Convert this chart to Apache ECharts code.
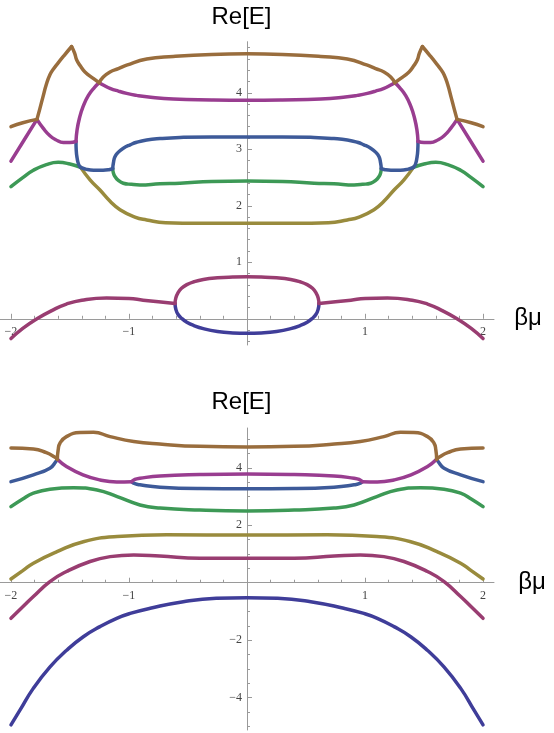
<!DOCTYPE html>
<html><head><meta charset="utf-8">
<script src="https://cdn.jsdelivr.net/npm/echarts@6/dist/echarts.min.js"></script>
<style>html,body{margin:0;padding:0;background:#fff}#c{width:554px;height:733px}</style>
</head><body><div id="c"></div>
<script>
// ---------- tick values ----------
const xMajor = [-2, -1, 1, 2];
const xMinor = [-1.8,-1.6,-1.4,-1.2,-0.8,-0.6,-0.4,-0.2,0.2,0.4,0.6,0.8,1.2,1.4,1.6,1.8];
const topYMajor = [1, 2, 3, 4];
const topYMinor = [-0.4,-0.2,0.2,0.4,0.6,0.8,1.2,1.4,1.6,1.8,2.2,2.4,2.6,2.8,3.2,3.4,3.6,3.8,4.2,4.4,4.6,4.8];
const botYMajor = [-4, -2, 2, 4];
const botYMinor = [-5,-4.5,-3.5,-3,-2.5,-1.5,-1,-0.5,0.5,1,1.5,2.5,3,3.5,4.5,5];

// ---------- top panel curves [βμ, Re E] ----------
const topMaroonLeft = [[-2.0,-0.35],[-1.9,-0.17],[-1.78,0.0],[-1.65,0.15],[-1.53,0.26],[-1.4,0.33],[-1.19,0.37],[-1.0,0.36],[-0.88,0.33],[-0.75,0.30],[-0.61,0.27]];
const topMaroonRight = [[0.61,0.27],[0.75,0.30],[0.88,0.33],[1.0,0.36],[1.19,0.37],[1.4,0.33],[1.53,0.26],[1.65,0.15],[1.78,0.0],[1.9,-0.17],[2.0,-0.35]];
const topMaroonArc = [[-0.61,0.27],[-0.603,0.37],[-0.585,0.46],[-0.555,0.54],[-0.51,0.605],[-0.45,0.655],[-0.37,0.695],[-0.25,0.725],[-0.12,0.74],[0,0.745],[0.12,0.74],[0.25,0.725],[0.37,0.695],[0.45,0.655],[0.51,0.605],[0.555,0.54],[0.585,0.46],[0.603,0.37],[0.61,0.27]];
const topDarkBlueArc = [[-0.61,0.27],[-0.603,0.17],[-0.585,0.08],[-0.555,0.01],[-0.51,-0.06],[-0.45,-0.12],[-0.37,-0.175],[-0.25,-0.225],[-0.12,-0.25],[0,-0.257],[0.12,-0.25],[0.25,-0.225],[0.37,-0.175],[0.45,-0.12],[0.51,-0.06],[0.555,0.01],[0.585,0.08],[0.603,0.17],[0.61,0.27]];
const topOlive = [[-1.41,2.68],[-1.33,2.46],[-1.246,2.28],[-1.16,2.08],[-1.076,1.93],[-0.95,1.80],[-0.85,1.75],[-0.69,1.70],[-0.4,1.69],[0,1.69],[0.4,1.69],[0.69,1.70],[0.85,1.75],[0.95,1.80],[1.076,1.93],[1.16,2.08],[1.246,2.28],[1.33,2.46],[1.41,2.68]];
const topGreenLeft = [[-2,2.34],[-1.9,2.50],[-1.81,2.63],[-1.70,2.73],[-1.60,2.77],[-1.50,2.74],[-1.41,2.68]];
const topGreenRight = [[1.41,2.68],[1.50,2.74],[1.60,2.77],[1.70,2.73],[1.81,2.63],[1.9,2.50],[2,2.34]];
const topGreenInner = [[-1.138,2.66],[-1.132,2.58],[-1.119,2.52],[-1.09,2.45],[-1.048,2.40],[-0.98,2.38],[-0.907,2.37],[-0.737,2.39],[-0.568,2.40],[-0.3,2.43],[0,2.44],[0.3,2.43],[0.568,2.40],[0.737,2.39],[0.907,2.37],[0.98,2.38],[1.048,2.40],[1.09,2.45],[1.119,2.52],[1.132,2.58],[1.138,2.66]];
const topBlueInner = [[-1.138,2.66],[-1.132,2.76],[-1.119,2.87],[-1.09,2.95],[-1.048,3.02],[-0.99,3.08],[-0.935,3.125],[-0.85,3.165],[-0.737,3.19],[-0.568,3.21],[-0.3,3.22],[0,3.22],[0.3,3.22],[0.568,3.21],[0.737,3.19],[0.85,3.165],[0.935,3.125],[0.99,3.08],[1.048,3.02],[1.09,2.95],[1.119,2.87],[1.132,2.76],[1.138,2.66]];
const topBlueBridgeLeft = [[-1.41,2.68],[-1.36,2.645],[-1.30,2.63],[-1.22,2.63],[-1.17,2.64],[-1.138,2.66]];
const topBlueBridgeRight = [[1.138,2.66],[1.17,2.64],[1.22,2.63],[1.30,2.63],[1.36,2.645],[1.41,2.68]];
const topBlueRiseLeft = [[-1.41,2.68],[-1.428,2.74],[-1.44,2.85],[-1.447,2.98],[-1.449,3.14]];
const topBlueRiseRight = [[1.41,2.68],[1.428,2.74],[1.44,2.85],[1.447,2.98],[1.449,3.14]];
const topPurpleArc = [[-1.252,4.18],[-1.21,4.13],[-1.161,4.08],[-1.09,4.03],[-1.02,3.99],[-0.935,3.955],[-0.85,3.93],[-0.625,3.89],[-0.3,3.875],[0,3.87],[0.3,3.875],[0.625,3.89],[0.85,3.93],[0.935,3.955],[1.02,3.99],[1.09,4.03],[1.161,4.08],[1.21,4.13],[1.252,4.18]];
const topPurpleDropLeft = [[-1.252,4.18],[-1.29,4.10],[-1.345,3.95],[-1.39,3.75],[-1.42,3.55],[-1.44,3.34],[-1.449,3.14]];
const topPurpleDropRight = [[1.252,4.18],[1.29,4.10],[1.345,3.95],[1.39,3.75],[1.42,3.55],[1.44,3.34],[1.449,3.14]];
const topPurpleDipLeft = [[-1.449,3.14],[-1.50,3.12],[-1.556,3.12],[-1.62,3.17],[-1.67,3.24],[-1.726,3.37],[-1.78,3.53]];
const topPurpleDipRight = [[1.449,3.14],[1.50,3.12],[1.556,3.12],[1.62,3.17],[1.67,3.24],[1.726,3.37],[1.78,3.53]];
const topPurpleEdgeLeft = [[-1.78,3.53],[-1.89,3.16],[-2,2.79]];
const topPurpleEdgeRight = [[1.78,3.53],[1.89,3.16],[2,2.79]];
const topBrownEdgeLeft = [[-2,3.40],[-1.9,3.47],[-1.78,3.53]];
const topBrownEdgeRight = [[1.78,3.53],[1.9,3.47],[2,3.40]];
const topBrownRiseLeft = [[-1.78,3.53],[-1.755,3.72],[-1.73,3.92],[-1.70,4.15],[-1.67,4.32],[-1.64,4.42],[-1.60,4.53],[-1.55,4.66],[-1.486,4.82]];
const topBrownRiseRight = [[1.78,3.53],[1.755,3.72],[1.73,3.92],[1.70,4.15],[1.67,4.32],[1.64,4.42],[1.60,4.53],[1.55,4.66],[1.486,4.82]];
const topBrownFallLeft = [[-1.486,4.82],[-1.46,4.70],[-1.443,4.58],[-1.41,4.47],[-1.373,4.37],[-1.30,4.25],[-1.252,4.18]];
const topBrownFallRight = [[1.486,4.82],[1.46,4.70],[1.443,4.58],[1.41,4.47],[1.373,4.37],[1.30,4.25],[1.252,4.18]];
const topBrownArc = [[-1.252,4.18],[-1.218,4.28],[-1.161,4.37],[-1.09,4.43],[-1.02,4.49],[-0.85,4.60],[-0.625,4.645],[-0.3,4.68],[0,4.69],[0.3,4.68],[0.625,4.645],[0.85,4.60],[1.02,4.49],[1.09,4.43],[1.161,4.37],[1.218,4.28],[1.252,4.18]];

// ---------- bottom panel curves ----------
const botDarkBlue = [[-2,-4.95],[-1.924,-4.44],[-1.811,-3.68],[-1.669,-2.93],[-1.528,-2.35],[-1.387,-1.88],[-1.246,-1.53],[-1.104,-1.24],[-0.99,-1.07],[-0.82,-0.89],[-0.54,-0.66],[-0.26,-0.54],[0,-0.52],[0.26,-0.54],[0.54,-0.66],[0.82,-0.89],[0.99,-1.07],[1.104,-1.24],[1.246,-1.53],[1.387,-1.88],[1.528,-2.35],[1.669,-2.93],[1.811,-3.68],[1.924,-4.44],[2,-4.95]];
const botMaroon = [[-2,-1.24],[-1.9,-0.84],[-1.81,-0.48],[-1.67,0.04],[-1.53,0.39],[-1.33,0.74],[-1.16,0.91],[-0.96,0.97],[-0.74,0.93],[-0.40,0.85],[0,0.85],[0.40,0.85],[0.74,0.93],[0.96,0.97],[1.16,0.91],[1.33,0.74],[1.53,0.39],[1.67,0.04],[1.81,-0.48],[1.9,-0.84],[2,-1.24]];
const botOlive = [[-2,0.13],[-1.9,0.42],[-1.81,0.68],[-1.61,1.08],[-1.387,1.43],[-1.10,1.61],[-0.68,1.67],[0,1.66],[0.68,1.67],[1.10,1.61],[1.387,1.43],[1.61,1.08],[1.81,0.68],[1.9,0.42],[2,0.13]];
const botGreen = [[-2,2.65],[-1.9,2.92],[-1.81,3.12],[-1.67,3.26],[-1.47,3.31],[-1.27,3.23],[-1.10,3.00],[-0.907,2.71],[-0.737,2.60],[-0.40,2.53],[0,2.50],[0.40,2.53],[0.737,2.60],[0.907,2.71],[1.10,3.00],[1.27,3.23],[1.47,3.31],[1.67,3.26],[1.81,3.12],[1.9,2.92],[2,2.65]];
const botBrownEdgeLeft = [[-2,4.69],[-1.81,4.66],[-1.70,4.53],[-1.63,4.38],[-1.607,4.30]];
const botBrownEdgeRight = [[1.607,4.30],[1.63,4.38],[1.70,4.53],[1.81,4.66],[2,4.69]];
const botBrownArc = [[-1.607,4.30],[-1.60,4.63],[-1.585,4.86],[-1.53,5.09],[-1.415,5.23],[-1.30,5.24],[-1.16,5.09],[-0.96,4.92],[-0.74,4.83],[-0.40,4.75],[0,4.73],[0.40,4.75],[0.74,4.83],[0.96,4.92],[1.16,5.09],[1.30,5.24],[1.415,5.23],[1.53,5.09],[1.585,4.86],[1.60,4.63],[1.607,4.30]];
const botBlueEdgeLeft = [[-2,3.52],[-1.81,3.76],[-1.67,3.99],[-1.62,4.22],[-1.607,4.30]];
const botBlueEdgeRight = [[1.607,4.30],[1.62,4.22],[1.67,3.99],[1.81,3.76],[2,3.52]];
const botPurpleDropLeft = [[-1.607,4.30],[-1.53,4.05],[-1.39,3.76],[-1.245,3.58],[-1.104,3.51],[-0.977,3.52]];
const botPurpleDropRight = [[0.977,3.52],[1.104,3.51],[1.245,3.58],[1.39,3.76],[1.53,4.05],[1.607,4.30]];
const botPurpleArc = [[-0.977,3.52],[-0.95,3.60],[-0.907,3.64],[-0.737,3.72],[-0.4,3.77],[0,3.79],[0.4,3.77],[0.737,3.72],[0.907,3.64],[0.95,3.60],[0.977,3.52]];
const botBlueArc = [[-0.977,3.52],[-0.95,3.45],[-0.907,3.41],[-0.737,3.33],[-0.4,3.28],[0,3.27],[0.4,3.28],[0.737,3.33],[0.907,3.41],[0.95,3.45],[0.977,3.52]];

// ---------- colours ----------
const C = {
  darkBlue: '#3F3D99', maroon: '#993D71', olive: '#998B3D', green: '#3D9956',
  blue: '#3D5A99', purple: '#993D90', brown: '#996D3D'
};

const topSegs = [
  [topOlive, C.olive], [topGreenLeft, C.green], [topGreenRight, C.green], [topGreenInner, C.green],
  [topBlueInner, C.blue], [topBlueBridgeLeft, C.blue], [topBlueBridgeRight, C.blue],
  [topBlueRiseLeft, C.blue], [topBlueRiseRight, C.blue],
  [topPurpleArc, C.purple], [topPurpleDropLeft, C.purple], [topPurpleDropRight, C.purple],
  [topPurpleDipLeft, C.purple], [topPurpleDipRight, C.purple],
  [topPurpleEdgeLeft, C.purple], [topPurpleEdgeRight, C.purple],
  [topBrownEdgeLeft, C.brown], [topBrownEdgeRight, C.brown],
  [topBrownRiseLeft, C.brown], [topBrownRiseRight, C.brown],
  [topBrownFallLeft, C.brown], [topBrownFallRight, C.brown], [topBrownArc, C.brown],
  [topDarkBlueArc, C.darkBlue], [topMaroonLeft, C.maroon], [topMaroonRight, C.maroon], [topMaroonArc, C.maroon]
];
const botSegs = [
  [botDarkBlue, C.darkBlue], [botMaroon, C.maroon], [botOlive, C.olive], [botGreen, C.green],
  [botBlueEdgeLeft, C.blue], [botBlueEdgeRight, C.blue], [botBlueArc, C.blue],
  [botPurpleDropLeft, C.purple], [botPurpleDropRight, C.purple], [botPurpleArc, C.purple],
  [botBrownEdgeLeft, C.brown], [botBrownEdgeRight, C.brown], [botBrownArc, C.brown]
];

const AX = '#9a9a9a';
const fmt = v => (v < 0 ? '\u2212' + Math.abs(v) : String(v));
const labelStyle = { fontFamily: 'Liberation Serif', fontSize: 12, color: '#444' };

// grid geometry (pixels)
const G = [
  { left: 0, top: 41.7, width: 494, height: 303.3, yMin: -0.464, yMax: 4.905 },
  { left: 0, top: 428, width: 494, height: 302, yMin: -5.13, yMax: 5.39 }
];
const X_MIN = -2.093, X_MAX = 2.093;
// distance from grid edge to the zero lines (so the axes sit on zero)
function xOff(g) { return -(g.height * (0 - g.yMin) / (g.yMax - g.yMin)); }
function yOff(g) { return -(g.width * (0 - X_MIN) / (X_MAX - X_MIN)); }

function xAxes(gi) {
  const g = G[gi], off = xOff(g);
  return [
    { type: 'value', gridIndex: gi, min: X_MIN, max: X_MAX, position: 'bottom', offset: off,
      axisLine: { show: true, onZero: false, lineStyle: { color: AX, width: 1 } },
      axisTick: { show: true, inside: true, length: 5, customValues: xMajor, lineStyle: { color: AX } },
      axisLabel: Object.assign({ show: true, customValues: xMajor, formatter: fmt, margin: 7 }, labelStyle),
      splitLine: { show: false } },
    { type: 'value', gridIndex: gi, min: X_MIN, max: X_MAX, position: 'bottom', offset: off,
      axisLine: { show: false, onZero: false },
      axisTick: { show: true, inside: true, length: 3, customValues: xMinor, lineStyle: { color: AX } },
      axisLabel: { show: false }, splitLine: { show: false } }
  ];
}
function yAxes(gi, major, minor) {
  const g = G[gi], off = yOff(g);
  return [
    { type: 'value', gridIndex: gi, min: g.yMin, max: g.yMax, position: 'left', offset: off,
      axisLine: { show: true, onZero: false, lineStyle: { color: AX, width: 1 } },
      axisTick: { show: true, inside: true, length: 5, customValues: major, lineStyle: { color: AX } },
      axisLabel: Object.assign({ show: true, customValues: major, formatter: fmt, margin: 5 }, labelStyle),
      splitLine: { show: false } },
    { type: 'value', gridIndex: gi, min: g.yMin, max: g.yMax, position: 'left', offset: off,
      axisLine: { show: false, onZero: false },
      axisTick: { show: true, inside: true, length: 3, customValues: minor, lineStyle: { color: AX } },
      axisLabel: { show: false }, splitLine: { show: false } }
  ];
}

function mk(segs, xi, yi) {
  return segs.map(([d, c]) => ({
    type: 'line', xAxisIndex: xi, yAxisIndex: yi, data: d, symbol: 'none', showSymbol: false,
    smooth: 0.5, silent: true, lineStyle: { color: c, width: 3.5, cap: 'round', join: 'round' },
    itemStyle: { color: c }, emphasis: { disabled: true }
  }));
}

const chart = echarts.init(document.getElementById('c'), null, { renderer: 'canvas' });
chart.setOption({
  animation: false,
  backgroundColor: '#fff',
  grid: G.map(g => ({ left: g.left, top: g.top, width: g.width, height: g.height, containLabel: false, outerBoundsMode: 'none' })),
  xAxis: [].concat(xAxes(0), xAxes(1)),
  yAxis: [].concat(yAxes(0, topYMajor, topYMinor), yAxes(1, botYMajor, botYMinor)),
  series: [].concat(mk(topSegs, 0, 0), mk(botSegs, 2, 2)),
  graphic: [
    { type: 'text', x: 241.5, y: 17, style: { text: 'Re[E]', align: 'center', verticalAlign: 'middle', fontSize: 24, fontFamily: 'Liberation Sans', fill: '#000' } },
    { type: 'text', x: 528, y: 318, style: { text: 'βμ', align: 'center', verticalAlign: 'middle', fontSize: 24, fontFamily: 'Liberation Sans', fill: '#000' } },
    { type: 'text', x: 241.5, y: 402, style: { text: 'Re[E]', align: 'center', verticalAlign: 'middle', fontSize: 24, fontFamily: 'Liberation Sans', fill: '#000' } },
    { type: 'text', x: 532, y: 582, style: { text: 'βμ', align: 'center', verticalAlign: 'middle', fontSize: 24, fontFamily: 'Liberation Sans', fill: '#000' } }
  ]
});
</script></body></html>
